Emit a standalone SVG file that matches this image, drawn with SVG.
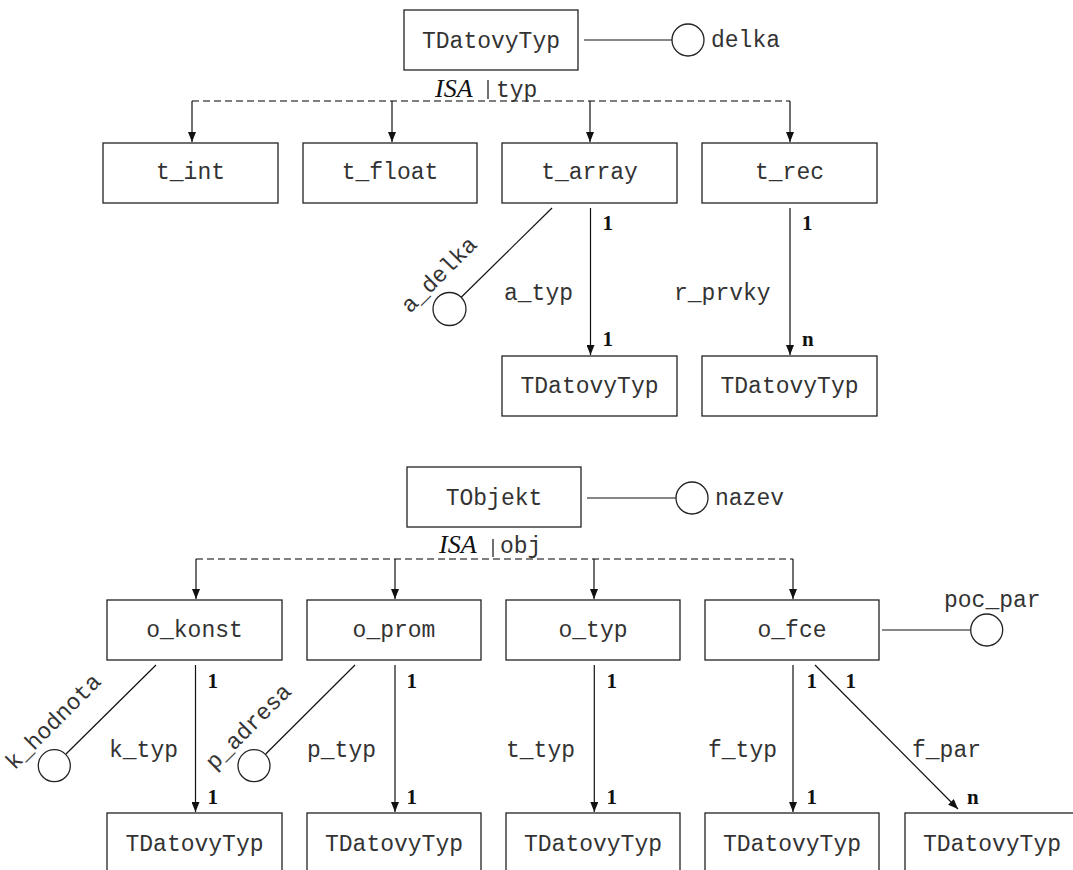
<svg xmlns="http://www.w3.org/2000/svg" width="1073" height="870" viewBox="0 0 1073 870">
<defs>
<style>
.box{fill:#fff;stroke:#222;stroke-width:1.3}
.t{font-family:"Liberation Mono","Courier New",monospace;font-size:23px;fill:#333}
.c{text-anchor:middle}
.m{font-family:"Liberation Serif","Times New Roman",serif;font-weight:bold;font-size:21px;fill:#111}
.isa{font-family:"Liberation Serif","Times New Roman",serif;font-style:italic;font-size:26px;fill:#111}
.ln{stroke:#111;stroke-width:1.2;fill:none}
.arr{stroke:#111;stroke-width:1.2;fill:none;marker-end:url(#ah)}
.dash{stroke:#555;stroke-width:1.5;stroke-dasharray:7 4;fill:none}
.attr{fill:#fff;stroke:#222;stroke-width:1.3}
</style>
<marker id="ah" markerUnits="userSpaceOnUse" markerWidth="10" markerHeight="8" refX="10" refY="4" orient="auto">
<path d="M0,0 L10,4 L0,8 z" fill="#111"/>
</marker>
</defs>
<rect width="1073" height="870" fill="#fff"/>

<g id="connectors">
<line class="ln" x1="584" y1="40" x2="672" y2="40"/>
<line class="ln" x1="488" y1="80" x2="488" y2="99"/>
<line class="dash" x1="192" y1="101" x2="790" y2="101"/>
<line class="arr" x1="192" y1="101" x2="192" y2="142"/>
<line class="arr" x1="392" y1="101" x2="392" y2="142"/>
<line class="arr" x1="590" y1="101" x2="590" y2="142"/>
<line class="arr" x1="790" y1="101" x2="790" y2="142"/>
<line class="ln" x1="552" y1="208" x2="461.2" y2="297.3"/>
<line class="arr" x1="590.5" y1="208" x2="590.5" y2="355"/>
<line class="arr" x1="790" y1="208" x2="790" y2="355"/>
<line class="ln" x1="587" y1="498" x2="676" y2="498"/>
<line class="ln" x1="493" y1="539" x2="493" y2="557"/>
<line class="dash" x1="196" y1="559" x2="793" y2="559"/>
<line class="arr" x1="196" y1="559" x2="196" y2="599"/>
<line class="arr" x1="395" y1="559" x2="395" y2="599"/>
<line class="arr" x1="594" y1="559" x2="594" y2="599"/>
<line class="arr" x1="793" y1="559" x2="793" y2="599"/>
<line class="ln" x1="156" y1="665" x2="66" y2="754"/>
<line class="ln" x1="355" y1="665" x2="265.7" y2="754"/>
<line class="arr" x1="195.5" y1="665" x2="195.5" y2="812"/>
<line class="arr" x1="395" y1="665" x2="395" y2="812"/>
<line class="arr" x1="594.3" y1="665" x2="594.3" y2="812"/>
<line class="arr" x1="793" y1="665" x2="793" y2="812"/>
<line class="arr" x1="815" y1="665" x2="958" y2="809"/>
<line class="ln" x1="882" y1="630" x2="970.5" y2="630"/>
</g>

<g id="labels">
<text class="isa" x="435" y="97">ISA</text>
<text class="t" x="496" y="97">typ</text>
<text class="t" x="504" y="300">a_typ</text>
<text class="t" x="674" y="300">r_prvky</text>
<text class="m" x="602.5" y="230">1</text>
<text class="m" x="602.5" y="346">1</text>
<text class="m" x="802" y="230">1</text>
<text class="m" x="802" y="346">n</text>
<text class="isa" x="439" y="553">ISA</text>
<text class="t" x="500" y="553">obj</text>
<text class="t" x="109" y="757">k_typ</text>
<text class="t" x="307" y="757">p_typ</text>
<text class="t" x="506" y="757">t_typ</text>
<text class="t" x="708" y="757">f_typ</text>
<text class="t" x="912" y="757">f_par</text>
<text class="m" x="207.5" y="688">1</text>
<text class="m" x="207.5" y="804">1</text>
<text class="m" x="406.5" y="688">1</text>
<text class="m" x="406.5" y="804">1</text>
<text class="m" x="606.5" y="688">1</text>
<text class="m" x="606.5" y="804">1</text>
<text class="m" x="806.5" y="688">1</text>
<text class="m" x="806.5" y="804">1</text>
<text class="m" x="845.5" y="688">1</text>
<text class="m" x="967" y="804">n</text>
</g>

<g id="TDatovyTyp_root">
<rect class="box" x="404" y="10" width="174" height="60"/>
<text class="t c" x="491" y="48">TDatovyTyp</text>
</g>
<g id="attr_delka">
<circle class="attr" cx="688" cy="40" r="16"/>
<text class="t" x="711" y="47">delka</text>
</g>
<g id="t_int"><rect class="box" x="103" y="143" width="175" height="60"/><text class="t c" x="190.5" y="179">t_int</text></g>
<g id="t_float"><rect class="box" x="303" y="143" width="174" height="60"/><text class="t c" x="390" y="179">t_float</text></g>
<g id="t_array"><rect class="box" x="502" y="143" width="175" height="60"/><text class="t c" x="589.5" y="179">t_array</text></g>
<g id="t_rec"><rect class="box" x="702" y="143" width="175" height="60"/><text class="t c" x="789.5" y="179">t_rec</text></g>
<g id="attr_a_delka">
<circle class="attr" cx="449.5" cy="309" r="16.5"/>
<text class="t" transform="translate(410,314) rotate(-45)">a_delka</text>
</g>
<g id="TDatovyTyp_a"><rect class="box" x="502" y="356" width="175" height="60"/><text class="t c" x="589.5" y="393">TDatovyTyp</text></g>
<g id="TDatovyTyp_r"><rect class="box" x="702" y="356" width="175" height="60"/><text class="t c" x="789.5" y="393">TDatovyTyp</text></g>

<g id="TObjekt">
<rect class="box" x="407" y="467" width="174" height="60"/>
<text class="t c" x="494" y="505">TObjekt</text>
</g>
<g id="attr_nazev">
<circle class="attr" cx="692" cy="498" r="16"/>
<text class="t" x="715" y="505">nazev</text>
</g>
<g id="o_konst"><rect class="box" x="107" y="600" width="175" height="60"/><text class="t c" x="194.5" y="637">o_konst</text></g>
<g id="o_prom"><rect class="box" x="307" y="600" width="174" height="60"/><text class="t c" x="394" y="637">o_prom</text></g>
<g id="o_typ"><rect class="box" x="506" y="600" width="174" height="60"/><text class="t c" x="593" y="637">o_typ</text></g>
<g id="o_fce"><rect class="box" x="705" y="600" width="174" height="60"/><text class="t c" x="792" y="637">o_fce</text></g>
<g id="attr_k_hodnota">
<circle class="attr" cx="54.3" cy="765.7" r="16"/>
<text class="t" transform="translate(14.5,770.7) rotate(-45)">k_hodnota</text>
</g>
<g id="attr_p_adresa">
<circle class="attr" cx="254" cy="765.7" r="16"/>
<text class="t" transform="translate(214.5,770.7) rotate(-45)">p_adresa</text>
</g>
<g id="attr_poc_par">
<circle class="attr" cx="986.7" cy="630" r="16"/>
<text class="t" x="944" y="607">poc_par</text>
</g>
<g id="TDatovyTyp_k"><rect class="box" x="107" y="813" width="175" height="62"/><text class="t c" x="194.5" y="851">TDatovyTyp</text></g>
<g id="TDatovyTyp_p"><rect class="box" x="307" y="813" width="174" height="62"/><text class="t c" x="394" y="851">TDatovyTyp</text></g>
<g id="TDatovyTyp_t"><rect class="box" x="506" y="813" width="174" height="62"/><text class="t c" x="593" y="851">TDatovyTyp</text></g>
<g id="TDatovyTyp_f"><rect class="box" x="705" y="813" width="174" height="62"/><text class="t c" x="792" y="851">TDatovyTyp</text></g>
<g id="TDatovyTyp_par"><rect class="box" x="905" y="813" width="174" height="62"/><text class="t c" x="992" y="851">TDatovyTyp</text></g>
</svg>
